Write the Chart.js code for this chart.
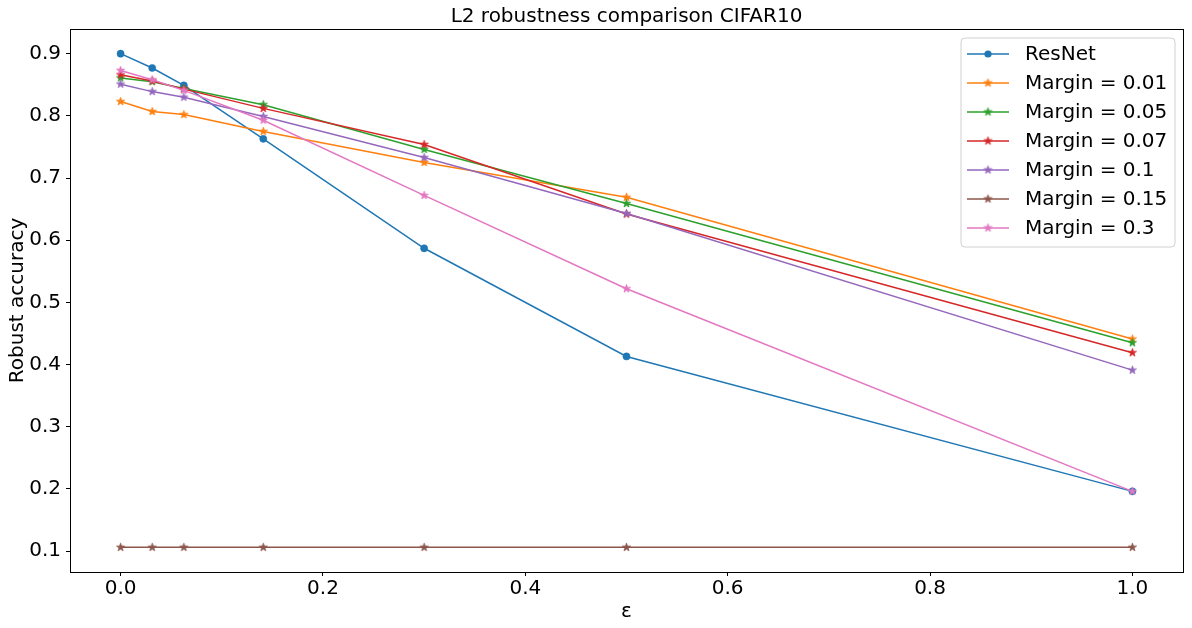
<!DOCTYPE html>
<html>
<head>
<meta charset="utf-8">
<script src="https://cdn.jsdelivr.net/npm/chart.js@4/dist/chart.umd.min.js"></script>
<style>
html,body{margin:0;padding:0;background:#fff;}
canvas{display:block;}
</style>
</head>
<body>
<canvas id="c" width="1192" height="628"></canvas>
<script>
// ---- data ----
const epsilons = [0, 0.03125, 0.0625, 0.141, 0.3, 0.5, 1.0];
const resnet   = [0.900, 0.877, 0.849, 0.763, 0.587, 0.413, 0.196];
const margin001 = [0.823, 0.807, 0.802, 0.775, 0.725, 0.669, 0.441];
const margin005 = [0.861, 0.855, 0.844, 0.818, 0.746, 0.659, 0.435];
const margin007 = [0.866, 0.856, 0.843, 0.812, 0.754, 0.642, 0.419];
const margin01  = [0.851, 0.839, 0.830, 0.799, 0.733, 0.643, 0.391];
const margin015 = [0.106, 0.106, 0.106, 0.106, 0.106, 0.106, 0.106];
const margin03  = [0.873, 0.858, 0.841, 0.793, 0.672, 0.522, 0.196];
const seriesNames = ['ResNet', 'Margin = 0.01', 'Margin = 0.05', 'Margin = 0.07', 'Margin = 0.1', 'Margin = 0.15', 'Margin = 0.3'];
const seriesValues = [resnet, margin001, margin005, margin007, margin01, margin015, margin03];
const xTicks = [0.0, 0.2, 0.4, 0.6, 0.8, 1.0];
const yTicks = [0.1, 0.2, 0.3, 0.4, 0.5, 0.6, 0.7, 0.8, 0.9];
const titleText = 'L2 robustness comparison CIFAR10';
const xLabel = 'ε';
const yLabel = 'Robust accuracy';

// ---- styles ----
const colors = ['#1f77b4', '#ff7f0e', '#2ca02c', '#d62728', '#9467bd', '#8c564b', '#e377c2'];
const FONT = '"DejaVu Sans", sans-serif';

function starImage(color, R) {
  const size = Math.ceil(R * 2 + 2);
  const cv = document.createElement('canvas');
  cv.width = size; cv.height = size;
  const g = cv.getContext('2d');
  const cx = size / 2, cy = size / 2, r = R * 0.381966;
  g.beginPath();
  for (let i = 0; i < 10; i++) {
    const rad = i % 2 === 0 ? R : r;
    const a = -Math.PI / 2 + i * Math.PI / 5;
    const px = cx + rad * Math.cos(a), py = cy + rad * Math.sin(a);
    if (i === 0) g.moveTo(px, py); else g.lineTo(px, py);
  }
  g.closePath();
  g.fillStyle = color;
  g.fill();
  g.lineWidth = 0.8;
  g.strokeStyle = color;
  g.stroke();
  return cv;
}

const datasets = seriesNames.map((name, i) => {
  const pts = epsilons.map((x, j) => ({x: x, y: seriesValues[i][j]}));
  const ds = {
    label: name,
    data: pts,
    borderColor: colors[i],
    backgroundColor: colors[i],
    borderWidth: 1.5,
    tension: 0,
    fill: false,
    order: 20 - i,
  };
  if (i === 0) {
    ds.pointStyle = 'circle';
    ds.pointRadius = 3.6;
    ds.pointBorderWidth = 0.5;
  } else {
    ds.pointStyle = starImage(colors[i], 4.3);
    ds.pointRadius = 4;
  }
  ds.pointHoverRadius = ds.pointRadius;
  return ds;
});

const decor = {
  id: 'decor',
  afterDraw(chart) {
    const ctx = chart.ctx;
    const a = chart.chartArea;
    ctx.save();
    // frame
    ctx.strokeStyle = '#000';
    ctx.lineWidth = 1;
    ctx.strokeRect(Math.round(a.left) + 0.5, Math.round(a.top) + 0.5, Math.round(a.right - a.left), Math.round(a.bottom - a.top));
    // title
    ctx.fillStyle = '#000';
    ctx.font = '20px ' + FONT;
    ctx.textAlign = 'center';
    ctx.textBaseline = 'alphabetic';
    ctx.fillText(titleText, (a.left + a.right) / 2, 22);
    // x label
    ctx.fillText(xLabel, (a.left + a.right) / 2, 617);
    // y label
    ctx.save();
    ctx.translate(23, (a.top + a.bottom) / 2);
    ctx.rotate(-Math.PI / 2);
    ctx.fillText(yLabel, 0, 0);
    ctx.restore();
    // legend
    const L = 961, T = 38, W = 214, H = 209;
    ctx.beginPath();
    const rr = 4;
    ctx.moveTo(L + rr, T);
    ctx.lineTo(L + W - rr, T); ctx.quadraticCurveTo(L + W, T, L + W, T + rr);
    ctx.lineTo(L + W, T + H - rr); ctx.quadraticCurveTo(L + W, T + H, L + W - rr, T + H);
    ctx.lineTo(L + rr, T + H); ctx.quadraticCurveTo(L, T + H, L, T + H - rr);
    ctx.lineTo(L, T + rr); ctx.quadraticCurveTo(L, T, L + rr, T);
    ctx.closePath();
    ctx.fillStyle = 'rgba(255,255,255,0.8)';
    ctx.fill();
    ctx.strokeStyle = '#d0d0d0';
    ctx.lineWidth = 1;
    ctx.stroke();
    ctx.textAlign = 'left';
    ctx.textBaseline = 'middle';
    ctx.font = '20px ' + FONT;
    seriesNames.forEach((name, i) => {
      const y = 54 + 29 * i;
      ctx.strokeStyle = colors[i];
      ctx.lineWidth = 1.5;
      ctx.beginPath();
      ctx.moveTo(967, y); ctx.lineTo(1009, y);
      ctx.stroke();
      if (i === 0) {
        ctx.beginPath();
        ctx.arc(988, y, 3.6, 0, Math.PI * 2);
        ctx.fillStyle = colors[i];
        ctx.fill();
      } else {
        const img = datasets[i].pointStyle;
        ctx.drawImage(img, 988 - img.width / 2, y - img.height / 2);
      }
      ctx.fillStyle = '#000';
      ctx.fillText(name, 1025, y + 1);
    });
    ctx.restore();
  }
};

new Chart(document.getElementById('c'), {
  type: 'line',
  data: {datasets: datasets},
  plugins: [decor],
  options: {
    responsive: false,
    animation: false,
    devicePixelRatio: 1,
    layout: {padding: {left: 0, top: 29, right: 9, bottom: 0}},
    plugins: {legend: {display: false}, title: {display: false}, tooltip: {enabled: false}},
    events: [],
    scales: {
      x: {
        type: 'linear',
        min: -0.05, max: 1.05,
        afterFit(s) { s.height = 56; },
        afterBuildTicks(s) { s.ticks = xTicks.map(v => ({value: v})); },
        grid: {drawOnChartArea: false, drawTicks: true, tickLength: 4, tickColor: '#000', tickWidth: 1},
        border: {display: true, color: '#000', width: 1},
        ticks: {color: '#000', font: {family: FONT, size: 20}, padding: 1, maxRotation: 0, autoSkip: false,
          callback: v => Number(v).toFixed(1)}
      },
      y: {
        type: 'linear',
        min: 0.0663, max: 0.9397,
        afterFit(s) { s.width = 70; },
        afterBuildTicks(s) { s.ticks = yTicks.map(v => ({value: v})); },
        grid: {drawOnChartArea: false, drawTicks: true, tickLength: 4, tickColor: '#000', tickWidth: 1},
        border: {display: true, color: '#000', width: 1},
        ticks: {color: '#000', font: {family: FONT, size: 20}, padding: 5, autoSkip: false,
          callback: v => Number(v).toFixed(1)}
      }
    }
  }
});
</script>
</body>
</html>
